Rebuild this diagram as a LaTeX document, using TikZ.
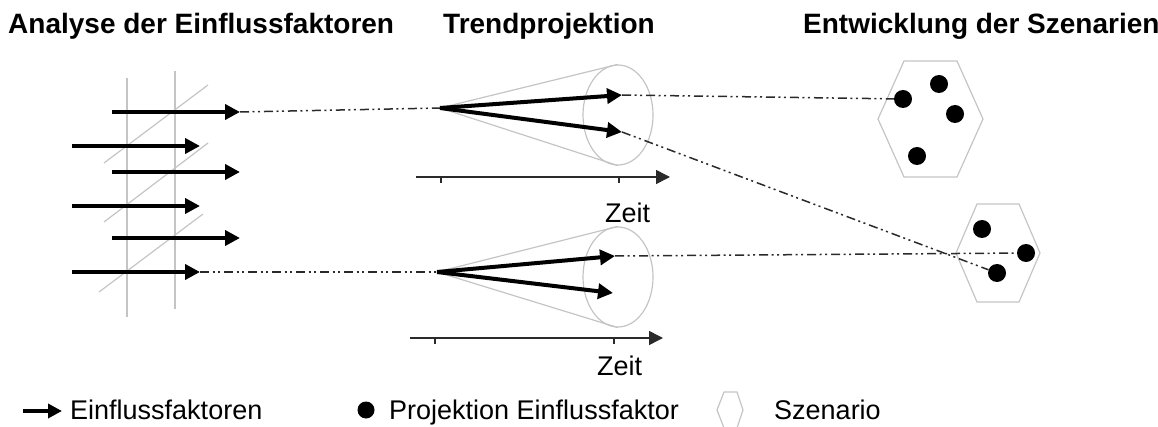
\documentclass[tikz,border=0pt]{standalone}
\usepackage{fontspec}
\setmainfont{Liberation Sans}
\usetikzlibrary{arrows.meta,positioning,shapes.geometric}
\definecolor{rahmen}{HTML}{C4C4C4}
\definecolor{strich}{HTML}{2A2A2A}

\begin{document}
\begin{tikzpicture}[x=1pt, y=-1pt,
      fak/.style={line width=4pt, -{Triangle[length=15pt,width=15pt]}},
      grau/.style={draw=rahmen, line width=1.2pt},
      proj/.style={draw=strich, line width=1.5pt, dash pattern=on 9pt off 3.5pt on 2pt off 3.5pt on 2pt off 4pt},
      achse/.style={draw=strich, line width=1.5pt, -{Triangle[length=14pt,width=14pt]}},
      tick/.style={draw=strich, line width=1.2pt},
      punkt/.style={circle, fill=black, inner sep=0pt, minimum size=18pt},
      kegel/.style={ellipse, draw=rahmen, line width=1.2pt, minimum width=70pt, minimum height=100pt, inner sep=0pt},
      titel/.style={font=\fontsize{28}{32}\selectfont\bfseries, anchor=base west, inner sep=0pt},
      txt/.style={font=\fontsize{27}{32}\selectfont, anchor=base west, inner sep=0pt}]
    \useasboundingbox (0,0) rectangle (1158,427);
    % Ueberschriften
    \node[titel] (t1) at (8,34) {Analyse der Einflussfaktoren};
    \node[titel] (t2) at (443,34) {Trendprojektion};
    \node[titel] (t3) at (803,34) {Entwicklung der Szenarien};
    % Einflussfaktoren
    \draw[grau] (127,78) -- (127,317);
    \draw[grau] (175,71) -- (175,309);
    \draw[grau] (104,163) -- (208,85);
    \draw[grau] (104,222) -- (208,143);
    \draw[grau] (99,292) -- (203,214);
    \foreach \i/\xa/\xb/\y in {1/112/240/112, 2/72/200/146, 3/112/240/172, 4/72/200/206, 5/112/240/238, 6/72/200/272} {
      \coordinate (s\i) at (\xa,\y);
      \coordinate (f\i) at (\xb,\y);
      \draw[fak] (s\i) -- (f\i);
    }
    % Trendprojektion oben
    \coordinate (k1) at (440,108);
    \node[kegel] (e1) at (618,115) {};
    \draw[grau] (k1) -- (e1.north);
    \draw[grau] (k1) -- (e1.south);
    \coordinate (p1) at (622,95);
    \coordinate (p2) at (622,132);
    \draw[fak] (k1) -- (p1);
    \draw[fak] (k1) -- (p2);
    \coordinate (z1a) at (416,177);
    \coordinate (z1b) at (670,177);
    \draw[achse] (z1a) -- (z1b);
    \draw[tick] (441,177) -- ++(0,6);
    \draw[tick] (619,177) -- ++(0,6);
    \node[txt] (zeit1) at (605,223) {Zeit};
    % Trendprojektion unten
    \coordinate (k2) at (437,272);
    \node[kegel] (e2) at (618,277) {};
    \draw[grau] (k2) -- (e2.north);
    \draw[grau] (k2) -- (e2.south);
    \coordinate (p3) at (615,256);
    \coordinate (p4) at (613,293);
    \draw[fak] (k2) -- (p3);
    \draw[fak] (k2) -- (p4);
    \coordinate (z2a) at (410,338);
    \coordinate (z2b) at (663,338);
    \draw[achse] (z2a) -- (z2b);
    \draw[tick] (435,338) -- ++(0,6);
    \draw[tick] (614,338) -- ++(0,6);
    \node[txt] (zeit2) at (597,375) {Zeit};
    % Szenarien
    \draw[grau] (904,61) -- (957,61) -- (983,119) -- (957,177) -- (904,177) -- (878,119) -- cycle;
    \draw[grau] (977,204) -- (1019,204) -- (1040,253) -- (1019,302) -- (977,302) -- (956,253) -- cycle;
    \node[punkt] (d1) at (903,99) {};
    \node[punkt] (d2) at (939,84) {};
    \node[punkt] (d3) at (955,114) {};
    \node[punkt] (d4) at (917,156) {};
    \node[punkt] (d5) at (982,229) {};
    \node[punkt] (d6) at (1026,253) {};
    \node[punkt] (d7) at (997,273) {};
    % Projektionslinien
    \draw[proj] (f1) -- (k1);
    \draw[proj] (f6) -- (k2);
    \draw[proj] (p1) -- (d1);
    \draw[proj] (p2) -- (d7);
    \draw[proj] (p3) -- (d6);
    % Legende
    \coordinate (l1) at (23,411);
    \coordinate (l2) at (62,411);
    \draw[fak, -{Triangle[length=14pt,width=14pt]}] (l1) -- (l2);
    \node[txt] (lt1) at (70,419) {Einflussfaktoren};
    \node[punkt, minimum size=17pt] (ld) at (366,410) {};
    \node[txt] (lt2) at (389,419) {Projektion Einflussfaktor};
    \draw[grau] (724,392) -- (737,392) -- (743,410) -- (737,428) -- (724,428) -- (717,410) -- cycle;
    \node[txt] (lt3) at (774,419) {Szenario};
  \end{tikzpicture}
\end{document}
